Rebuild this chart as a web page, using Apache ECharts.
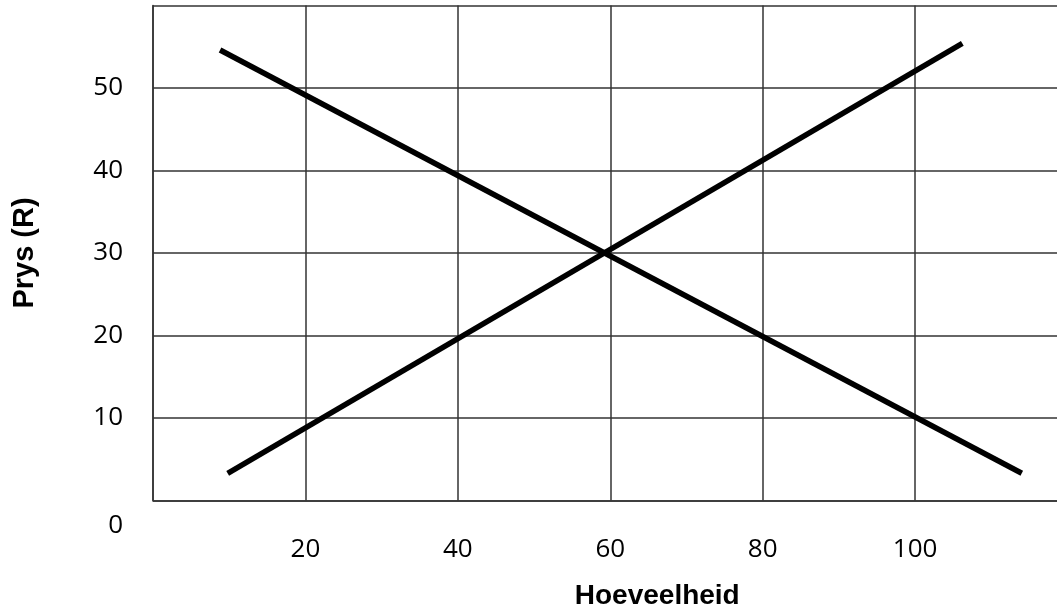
<!DOCTYPE html>
<html>
<head>
<meta charset="utf-8">
<script src="https://cdn.jsdelivr.net/npm/echarts@6/dist/echarts.min.js"></script>
<style>html,body{margin:0;padding:0;background:#fff}#c{width:1057px;height:615px}</style>
</head>
<body>
<div id="c"></div>
<script>
const xTicks = [0, 20, 40, 60, 80, 100, 120];
const yTicks = [0, 10, 20, 30, 40, 50, 60];
const demandQ = [8.8, 114];
const demandP = [54.6, 3.3];
const supplyQ = [9.8, 106.2];
const supplyP = [3.3, 55.4];
const xName = 'Hoeveelheid';
const yName = 'Prys (R)';

const chart = echarts.init(document.getElementById('c'));
const gridColor = '#333';
const tickFont = { fontFamily: 'Open Sans', fontSize: 26, color: '#000' };
chart.setOption({
  animation: false,
  grid: { left: 153, top: 5.5, bottom: 114.5, width: 914.5, containLabel: false, outerBoundsMode: 'none' },
  xAxis: {
    type: 'value', min: xTicks[0], max: xTicks[xTicks.length - 1], interval: 20,
    axisLine: { show: true, lineStyle: { color: gridColor, width: 1.5 } },
    axisTick: { show: false },
    splitLine: { show: true, lineStyle: { color: gridColor, width: 1.5 } },
    axisLabel: Object.assign({ margin: 36, formatter: v => (v === 0 || v === 120) ? '' : String(v) }, tickFont),
    name: xName, nameLocation: 'middle', nameGap: 82,
    nameTextStyle: { fontFamily: 'Liberation Sans', fontWeight: 'bold', fontSize: 28, color: '#000', padding: [0, 0, 0, 94] }
  },
  yAxis: {
    type: 'value', min: yTicks[0], max: yTicks[yTicks.length - 1], interval: 10,
    axisLine: { show: true, lineStyle: { color: gridColor, width: 1.5 } },
    axisTick: { show: false },
    splitLine: { show: true, lineStyle: { color: gridColor, width: 1.5 } },
    axisLabel: Object.assign({
      margin: 30,
      formatter: v => v === 60 ? '' : (v === 0 ? '{z|0}' : String(v)),
      rich: { z: Object.assign({ padding: [50, 0, 0, 0] }, tickFont) }
    }, tickFont),
    name: yName, nameLocation: 'middle', nameGap: 114, nameRotate: 90,
    nameTextStyle: { fontFamily: 'Liberation Sans', fontWeight: 'bold', fontSize: 29, color: '#000' }
  },
  series: [
    { type: 'line', data: demandQ.map((q, i) => [q, demandP[i]]), symbol: 'none',
      lineStyle: { color: '#000', width: 5.5 }, silent: true },
    { type: 'line', data: supplyQ.map((q, i) => [q, supplyP[i]]), symbol: 'none',
      lineStyle: { color: '#000', width: 5.5 }, silent: true }
  ]
});
</script>
</body>
</html>
